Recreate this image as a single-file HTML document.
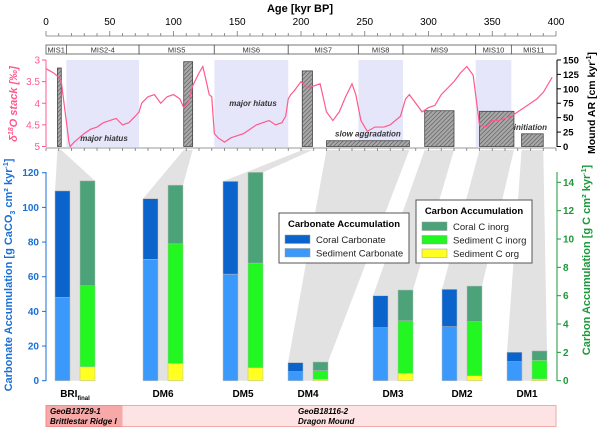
<!DOCTYPE html>
<html><head><meta charset="utf-8"><style>
html,body{margin:0;padding:0;background:#fff;}
svg{display:block;font-family:"Liberation Sans",Arial,sans-serif;}
</style></head><body>
<svg id="chart" width="600" height="432" viewBox="0 0 600 432" xmlns="http://www.w3.org/2000/svg">
<defs>
<pattern id="hatch" patternUnits="userSpaceOnUse" width="3" height="3" patternTransform="rotate(45)">
<rect width="3" height="3" fill="#a8a8a8"/><line x1="0" y1="0" x2="0" y2="3" stroke="#555" stroke-width="1.2"/>
</pattern>
</defs>
<g id="bg"></g>
<g id="top"></g>
<g id="bottom"></g>
</svg>
<script>
// ---- data ----
const misLabels=["MIS1","MIS2-4","MIS5","MIS6","MIS7","MIS8","MIS9","MIS10","MIS11"];
const misBounds=[0,16,73,132,190,245,280,337,365,400];
const hiatusBands=[[16,73],[132,190],[245,280],[337,365]];
const d18oAge=[0,3,6,10,12,15,18,19,22,26,30,35,40,45,50,55,60,65,70,73,75,80,85,90,95,100,105,108,112,115,120,123,125,128,130,132,135,140,145,150,155,160,165,170,175,180,185,188,190,192,195,200,205,210,215,220,225,230,235,240,243,247,252,258,265,270,278,282,285,290,295,300,305,310,315,320,325,330,335,340,345,350,355,360,365,370,375,380,385,390,395,397];
const d18oVal=[3.2,3.25,3.3,3.4,3.5,4.2,4.9,5.0,4.9,4.8,4.7,4.6,4.55,4.45,4.4,4.35,4.5,4.45,4.3,4.2,4.0,3.85,3.8,4.0,3.85,3.8,3.9,4.1,3.95,3.6,3.3,3.15,3.4,3.8,3.85,4.7,4.8,4.9,4.8,4.75,4.7,4.6,4.5,4.45,4.4,4.5,4.45,4.3,3.9,3.8,3.7,3.5,3.65,3.6,3.55,4.2,4.4,4.2,3.85,3.55,3.8,4.4,4.65,4.55,4.55,4.5,4.3,3.9,3.8,4.0,4.2,4.1,4.05,3.8,3.65,3.5,3.3,3.15,3.35,4.5,4.55,4.4,4.4,4.35,4.3,4.2,4.1,4.0,3.9,3.75,3.5,3.4];
const arStart=[9,108,201,220,297,340,373];
const arEnd=[12,115,209,285,320,367,390];
const arVal=[136,147,131,10,62,61,22];
const arLabel=["","","","slow aggradation","","","initiation"];
const sites=["BRI","DM6","DM5","DM4","DM3","DM2","DM1"];
const coralCarb=[61.5,35,53.5,5.2,18.4,21.5,5.4];
const sedCarb=[48,70,61.5,5.2,30.6,31.2,11];
const coralC=[7.4,4.14,6.4,0.61,2.17,2.51,0.66];
const sedCinorg=[5.72,8.44,7.38,0.61,3.71,3.82,1.32];
const sedCorg=[0.98,1.22,0.92,0.1,0.52,0.35,0.12];
const carbTicks=[0,20,40,60,80,100,120];
const cTicks=[0,2,4,6,8,10,12,14];
const ageTicks=[0,50,100,150,200,250,300,350,400];
const dTicks=[3,3.5,4,4.5,5];
const arTicks=[0,25,50,75,100,125,150];

// ---- scales ----
const NS="http://www.w3.org/2000/svg";
const ax=a=>46+a*1.275;
const yd=v=>60+(v-3)*43.25;
const yar=v=>146.5-v*0.577;
const yCarb=v=>380.7-v*1.733;
const yC=v=>380.7-v*14.17;
const carbX=[55,143,223,288,373,442,507];
const BW=15, GAP=10;
function el(parent,tag,attrs,text){const e=document.createElementNS(NS,tag);for(const k in attrs)e.setAttribute(k,attrs[k]);if(text!==undefined)e.textContent=text;document.getElementById(parent).appendChild(e);return e;}

// gray connectors
for(let i=0;i<sites.length;i++){
  const x0=carbX[i],x1=carbX[i]+2*BW+GAP;
  const t1=yCarb(coralCarb[i]+sedCarb[i]);
  const t2=yC(coralC[i]+sedCinorg[i]+sedCorg[i]);
  const p=el("bg","polygon",{points:`${ax(arStart[i])},150 ${ax(arEnd[i])},150 ${x1},${t2} ${x1},380.7 ${x0},380.7 ${x0},${t1}`,fill:"#e2e2e2"});
  
  
}

// ---- top panel ----
const tt=el("top","text",{x:300,y:12,"text-anchor":"middle","font-size":"11","font-weight":"bold"},"Age [kyr BP]");

el("top","line",{x1:46,y1:36,x2:556,y2:36,stroke:"#777","stroke-width":"0.8"});
el("top","line",{x1:46,y1:148,x2:556,y2:148,stroke:"#777","stroke-width":"0.8"});
for(let a=0;a<=400;a+=10){el("top","line",{x1:ax(a),y1:36,x2:ax(a),y2:a%50?33:31,stroke:"#777","stroke-width":"0.8"});el("top","line",{x1:ax(a),y1:148,x2:ax(a),y2:151,stroke:"#777","stroke-width":"0.8"});}
for(let i=0;i<ageTicks.length;i++){const t=el("top","text",{x:ax(ageTicks[i]),y:25,"text-anchor":"middle","font-size":"10"},ageTicks[i]);}
for(let i=0;i<misLabels.length;i++){
  const r=el("top","rect",{x:ax(misBounds[i]),y:45,width:ax(misBounds[i+1])-ax(misBounds[i]),height:9,fill:"#fff",stroke:"#555","stroke-width":"0.8"});
  
  el("top","text",{x:(ax(misBounds[i])+ax(misBounds[i+1]))/2,y:52.5,"text-anchor":"middle","font-size":"7.5",fill:"#333"},misLabels[i]);
}
for(const b of hiatusBands){const r=el("top","rect",{x:ax(b[0]),y:60,width:ax(b[1])-ax(b[0]),height:87,fill:"#e6e6fb"});}
el("top","text",{x:104,y:141,"text-anchor":"middle","font-size":"8","font-style":"italic","font-weight":"bold",fill:"#333"},"major hiatus");
el("top","text",{x:253,y:106,"text-anchor":"middle","font-size":"8","font-style":"italic","font-weight":"bold",fill:"#333"},"major hiatus");
for(let i=0;i<arVal.length;i++){
  const r=el("top","rect",{x:ax(arStart[i]),y:yar(arVal[i]),width:ax(arEnd[i])-ax(arStart[i]),height:146.5-yar(arVal[i]),fill:"url(#hatch)",stroke:"#444","stroke-width":"0.8"});
  
  if(arLabel[i])el("top","text",{x:(ax(arStart[i])+ax(arEnd[i]))/2+(i==6?-2:0),y:yar(arVal[i])-4,"text-anchor":"middle","font-size":"8","font-style":"italic","font-weight":"bold",fill:"#333"},arLabel[i]);
}
let pts=d18oAge.map((a,i)=>ax(a)+","+yd(d18oVal[i])).join(" ");
const pl=el("top","polyline",{points:pts,fill:"none",stroke:"#ff5a8c","stroke-width":"1.2"});

el("top","line",{x1:46,y1:60,x2:46,y2:147,stroke:"#ff5a8c","stroke-width":"1"});
for(const v of dTicks){el("top","line",{x1:42,y1:yd(v),x2:46,y2:yd(v),stroke:"#ff5a8c"});const t=el("top","text",{x:40,y:yd(v)+3.5,"text-anchor":"end","font-size":"10",fill:"#ff5a8c"},v);}
const dl=el("top","text",{transform:"translate(17,104) rotate(-90)","text-anchor":"middle","font-size":"11","font-style":"italic","font-weight":"bold",fill:"#ff5a8c"});
dl.innerHTML='δ<tspan dy="-4" font-size="7">18</tspan><tspan dy="4">O stack [‰]</tspan>';

el("top","line",{x1:557,y1:60,x2:557,y2:147,stroke:"#000","stroke-width":"1"});
for(const v of arTicks){el("top","line",{x1:557,y1:yar(v),x2:561,y2:yar(v),stroke:"#000"});const t=el("top","text",{x:563,y:yar(v)+3.5,"font-size":"9.5","font-weight":"bold"},v);}
const rl=el("top","text",{transform:"translate(595,103) rotate(-90)","text-anchor":"middle","font-size":"10.5","font-weight":"bold"});
rl.innerHTML='Mound AR [cm kyr<tspan dy="-4" font-size="7">-1</tspan><tspan dy="4">]</tspan>';


// ---- bottom panel ----
function bar(x,y0,y1,fill,name){const r=el("bottom","rect",{x:x,y:y1,width:BW,height:y0-y1,fill:fill,stroke:"#bbb","stroke-width":"0.5"});}
for(let i=0;i<sites.length;i++){
  const x=carbX[i],x2=x+BW+GAP;
  bar(x,yCarb(0),yCarb(sedCarb[i]),"#3a99fa","bar-sediment-carbonate");
  bar(x,yCarb(sedCarb[i]),yCarb(sedCarb[i]+coralCarb[i]),"#0a64cc","bar-coral-carbonate");
  bar(x2,yC(0),yC(sedCorg[i]),"#ffff22","bar-sediment-c-org");
  bar(x2,yC(sedCorg[i]),yC(sedCorg[i]+sedCinorg[i]),"#22f722","bar-sediment-c-inorg");
  bar(x2,yC(sedCorg[i]+sedCinorg[i]),yC(sedCorg[i]+sedCinorg[i]+coralC[i]),"#4ca37a","bar-coral-c-inorg");
  const t=el("bottom","text",{x:x+BW+GAP/2,y:397,"text-anchor":"middle","font-size":"10","font-weight":"bold"});
  if(i==0)t.innerHTML='BRI<tspan dy="3" font-size="6">final</tspan>';else t.textContent=sites[i];
  
}
el("bottom","line",{x1:46,y1:172,x2:46,y2:381,stroke:"#1a6fd6"});
for(const v of carbTicks){el("bottom","line",{x1:42,y1:yCarb(v),x2:46,y2:yCarb(v),stroke:"#1a6fd6"});const t=el("bottom","text",{x:39,y:yCarb(v)+3.5,"text-anchor":"end","font-size":"10","font-weight":"bold",fill:"#1a6fd6"},v);}
const ll=el("bottom","text",{transform:"translate(12,275) rotate(-90)","text-anchor":"middle","font-size":"11","font-weight":"bold",fill:"#1a6fd6"});
ll.innerHTML='Carbonate Accumulation [g CaCO<tspan dy="3" font-size="7">3</tspan><tspan dy="-3"> cm² kyr</tspan><tspan dy="-4" font-size="7">-1</tspan><tspan dy="4">]</tspan>';

el("bottom","line",{x1:557,y1:172,x2:557,y2:381,stroke:"#1a9a3a"});
for(const v of cTicks){el("bottom","line",{x1:557,y1:yC(v),x2:561,y2:yC(v),stroke:"#1a9a3a"});const t=el("bottom","text",{x:563,y:yC(v)+3.5,"font-size":"10","font-weight":"bold",fill:"#1a9a3a"},v);}
const cl=el("bottom","text",{transform:"translate(590,260) rotate(-90)","text-anchor":"middle","font-size":"11","font-weight":"bold",fill:"#1a9a3a"});
cl.innerHTML='Carbon Accumulation [g C cm² kyr<tspan dy="-4" font-size="7">-1</tspan><tspan dy="4">]</tspan>';


// legends
function legend(x,y,w,h,title,items,name){
  const r=el("bottom","rect",{x:x,y:y,width:w,height:h,fill:"#fff",stroke:"#555","stroke-width":"1"});
  el("bottom","text",{x:x+w/2,y:y+14,"text-anchor":"middle","font-size":"9.5","font-weight":"bold"},title);
  items.forEach((it,k)=>{el("bottom","rect",{x:x+6,y:y+22+k*13.5,width:25,height:8.5,fill:it[1],stroke:"#999","stroke-width":"0.5"});const t=el("bottom","text",{x:x+37,y:y+30+k*13.5,"font-size":"9.5",fill:"#222"},it[0]);});
}
legend(279,213,130,50,"Carbonate Accumulation",[["Coral Carbonate","#0a64cc"],["Sediment Carbonate","#3a99fa"]],"carbonate-legend");
legend(416,200,116,63,"Carbon Accumulation",[["Coral C inorg","#4ca37a"],["Sediment C inorg","#22f722"],["Sediment C org","#ffff22"]],"carbon-legend");

// site boxes
const b1=el("bottom","rect",{x:46,y:405.5,width:76,height:21,fill:"#f7a8a8",stroke:"#f28c8c"});
const b2=el("bottom","rect",{x:122,y:405.5,width:434,height:21,fill:"#fde3e3",stroke:"#f5aaaa"});
el("bottom","text",{x:50,y:414,"font-size":"8","font-style":"italic","font-weight":"bold"},"GeoB13729-1");
el("bottom","text",{x:50,y:424,"font-size":"8","font-style":"italic","font-weight":"bold"},"Brittlestar Ridge I");
el("bottom","text",{x:298,y:414,"font-size":"8","font-style":"italic","font-weight":"bold"},"GeoB18116-2");
el("bottom","text",{x:298,y:424,"font-size":"8","font-style":"italic","font-weight":"bold"},"Dragon Mound");
</script>
</body></html>
